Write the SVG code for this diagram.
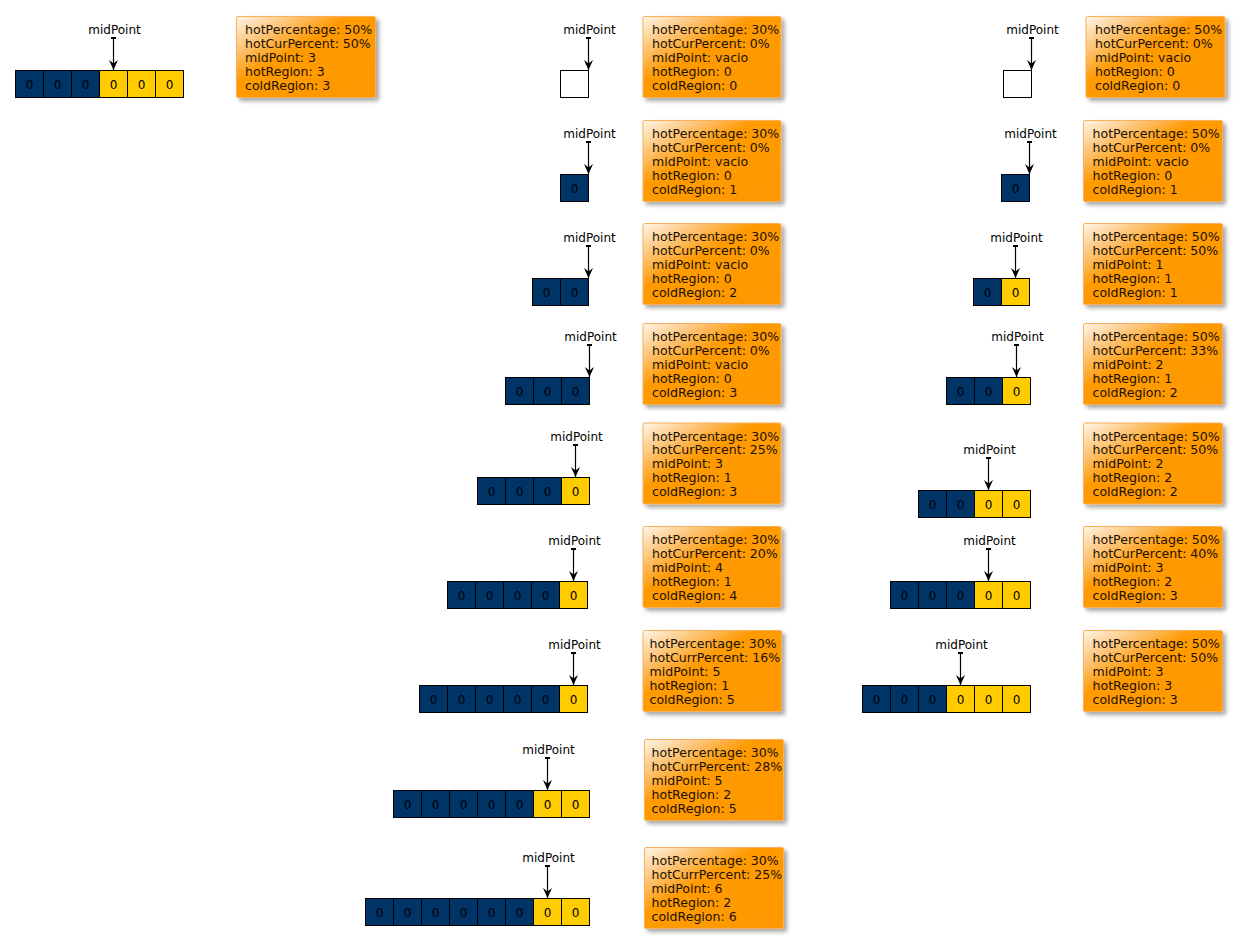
<svg xmlns="http://www.w3.org/2000/svg" width="1241" height="944" viewBox="0 0 1241 944">
<style>
.c{fill:#003366;stroke:#000;stroke-width:1}
.h{fill:#ffcc00;stroke:#000;stroke-width:1}
.e{fill:#fff;stroke:#000;stroke-width:1}
.z{font-family:"DejaVu Sans",sans-serif;font-size:12px;fill:#000;text-anchor:middle}
.lbl{font-family:"DejaVu Sans",sans-serif;font-size:12px;fill:#000;text-anchor:middle}
.note{fill:url(#ng);stroke:#f8b05a;stroke-width:1;filter:url(#sh)}
.nt{font-family:"DejaVu Sans",sans-serif;font-size:12.55px;fill:#1a1000}
.ar{stroke:#000;stroke-width:1.2;fill:none;marker-end:url(#head);marker-start:url(#tick)}
</style>
<defs>
<linearGradient id="ng" x1="0" y1="0" x2="1" y2="1">
<stop offset="0" stop-color="#fff6ea"/>
<stop offset="0.2" stop-color="#fdc77e"/>
<stop offset="0.4" stop-color="#ff9b06"/>
<stop offset="1" stop-color="#ff9700"/>
</linearGradient>
<filter id="sh" x="-10%" y="-10%" width="130%" height="140%">
<feDropShadow dx="3" dy="3" stdDeviation="2" flood-color="#000" flood-opacity="0.35"/>
</filter>
<marker id="head" viewBox="0 0 10 10" refX="10" refY="5" markerWidth="10" markerHeight="10" markerUnits="userSpaceOnUse" orient="auto">
<path d="M0,0.5 L10,5 L0,9.5 L3.5,5 z" fill="#000"/>
</marker>
<marker id="tick" viewBox="0 0 2 5" refX="1" refY="2.5" markerWidth="2" markerHeight="5" markerUnits="userSpaceOnUse" orient="auto">
<rect x="0" y="0" width="2" height="5" fill="#000"/>
</marker>
</defs>

<!-- left column -->
<g id="arr-L1">
<rect class="c" x="15.5" y="70.5" width="28" height="27"/><rect class="c" x="43.5" y="70.5" width="28" height="27"/><rect class="c" x="71.5" y="70.5" width="28" height="27"/>
<rect class="h" x="99.5" y="70.5" width="28" height="27"/><rect class="h" x="127.5" y="70.5" width="28" height="27"/><rect class="h" x="155.5" y="70.5" width="28" height="27"/>
<text class="z" x="29.5" y="88.5">0</text><text class="z" x="57.5" y="88.5">0</text><text class="z" x="85.5" y="88.5">0</text><text class="z" x="113.5" y="88.5">0</text><text class="z" x="141.5" y="88.5">0</text><text class="z" x="169.5" y="88.5">0</text>
<text class="lbl" x="114.5" y="34">midPoint</text>
</g>
<g id="note-L1"><rect class="note" x="236.5" y="16.5" width="139" height="81" rx="1.5"/>
<text class="nt" x="245" y="34"><tspan x="245">hotPercentage: 50%</tspan><tspan x="245" dy="13.95">hotCurPercent: 50%</tspan><tspan x="245" dy="13.95">midPoint: 3</tspan><tspan x="245" dy="13.95">hotRegion: 3</tspan><tspan x="245" dy="13.95">coldRegion: 3</tspan></text></g>

<!-- middle column -->
<g id="arr-M1">
<rect class="e" x="560.5" y="70.5" width="28" height="27"/>
<text class="lbl" x="589.5" y="34">midPoint</text>
</g>
<g id="note-M1"><rect class="note" x="643" y="16.5" width="138" height="81" rx="1.5"/>
<text class="nt" x="652" y="34"><tspan x="652">hotPercentage: 30%</tspan><tspan x="652" dy="13.95">hotCurPercent: 0%</tspan><tspan x="652" dy="13.95">midPoint: vacio</tspan><tspan x="652" dy="13.95">hotRegion: 0</tspan><tspan x="652" dy="13.95">coldRegion: 0</tspan></text></g>

<g id="arr-M2">
<rect class="c" x="560.5" y="174.5" width="28" height="27"/>
<text class="z" x="574.5" y="192.5">0</text>
<text class="lbl" x="589.5" y="138">midPoint</text>
</g>
<g id="note-M2"><rect class="note" x="643" y="120.5" width="138" height="81" rx="1.5"/>
<text class="nt" x="652" y="138"><tspan x="652">hotPercentage: 30%</tspan><tspan x="652" dy="13.95">hotCurPercent: 0%</tspan><tspan x="652" dy="13.95">midPoint: vacio</tspan><tspan x="652" dy="13.95">hotRegion: 0</tspan><tspan x="652" dy="13.95">coldRegion: 1</tspan></text></g>

<g id="arr-M3">
<rect class="c" x="532.5" y="278.5" width="28" height="27"/><rect class="c" x="560.5" y="278.5" width="28" height="27"/>
<text class="z" x="546.5" y="296.5">0</text><text class="z" x="574.5" y="296.5">0</text>
<text class="lbl" x="589.5" y="242">midPoint</text>
</g>
<g id="note-M3"><rect class="note" x="643" y="223.5" width="138" height="81" rx="1.5"/>
<text class="nt" x="652" y="241"><tspan x="652">hotPercentage: 30%</tspan><tspan x="652" dy="13.95">hotCurPercent: 0%</tspan><tspan x="652" dy="13.95">midPoint: vacio</tspan><tspan x="652" dy="13.95">hotRegion: 0</tspan><tspan x="652" dy="13.95">coldRegion: 2</tspan></text></g>

<g id="arr-M4">
<rect class="c" x="505.5" y="377.5" width="28" height="27"/><rect class="c" x="533.5" y="377.5" width="28" height="27"/><rect class="c" x="561.5" y="377.5" width="28" height="27"/>
<text class="z" x="519.5" y="395.5">0</text><text class="z" x="547.5" y="395.5">0</text><text class="z" x="575.5" y="395.5">0</text>
<text class="lbl" x="590.5" y="341">midPoint</text>
</g>
<g id="note-M4"><rect class="note" x="643" y="323.5" width="138" height="81" rx="1.5"/>
<text class="nt" x="652" y="341"><tspan x="652">hotPercentage: 30%</tspan><tspan x="652" dy="13.95">hotCurPercent: 0%</tspan><tspan x="652" dy="13.95">midPoint: vacio</tspan><tspan x="652" dy="13.95">hotRegion: 0</tspan><tspan x="652" dy="13.95">coldRegion: 3</tspan></text></g>

<g id="arr-M5">
<rect class="c" x="477.5" y="477.5" width="28" height="27"/><rect class="c" x="505.5" y="477.5" width="28" height="27"/><rect class="c" x="533.5" y="477.5" width="28" height="27"/><rect class="h" x="561.5" y="477.5" width="28" height="27"/>
<text class="z" x="491.5" y="495.5">0</text><text class="z" x="519.5" y="495.5">0</text><text class="z" x="547.5" y="495.5">0</text><text class="z" x="575.5" y="495.5">0</text>
<text class="lbl" x="576.5" y="441">midPoint</text>
</g>
<g id="note-M5"><rect class="note" x="643" y="423" width="138" height="81" rx="1.5"/>
<text class="nt" x="652" y="440.5"><tspan x="652">hotPercentage: 30%</tspan><tspan x="652" dy="13.95">hotCurPercent: 25%</tspan><tspan x="652" dy="13.95">midPoint: 3</tspan><tspan x="652" dy="13.95">hotRegion: 1</tspan><tspan x="652" dy="13.95">coldRegion: 3</tspan></text></g>

<g id="arr-M6">
<rect class="c" x="447.5" y="581.5" width="28" height="27"/><rect class="c" x="475.5" y="581.5" width="28" height="27"/><rect class="c" x="503.5" y="581.5" width="28" height="27"/><rect class="c" x="531.5" y="581.5" width="28" height="27"/><rect class="h" x="559.5" y="581.5" width="28" height="27"/>
<text class="z" x="461.5" y="599.5">0</text><text class="z" x="489.5" y="599.5">0</text><text class="z" x="517.5" y="599.5">0</text><text class="z" x="545.5" y="599.5">0</text><text class="z" x="573.5" y="599.5">0</text>
<text class="lbl" x="574.5" y="545">midPoint</text>
</g>
<g id="note-M6"><rect class="note" x="643" y="526.5" width="138" height="81" rx="1.5"/>
<text class="nt" x="652" y="544"><tspan x="652">hotPercentage: 30%</tspan><tspan x="652" dy="13.95">hotCurPercent: 20%</tspan><tspan x="652" dy="13.95">midPoint: 4</tspan><tspan x="652" dy="13.95">hotRegion: 1</tspan><tspan x="652" dy="13.95">coldRegion: 4</tspan></text></g>

<g id="arr-M7">
<rect class="c" x="419.5" y="685.5" width="28" height="27"/><rect class="c" x="447.5" y="685.5" width="28" height="27"/><rect class="c" x="475.5" y="685.5" width="28" height="27"/><rect class="c" x="503.5" y="685.5" width="28" height="27"/><rect class="c" x="531.5" y="685.5" width="28" height="27"/><rect class="h" x="559.5" y="685.5" width="28" height="27"/>
<text class="z" x="433.5" y="703.5">0</text><text class="z" x="461.5" y="703.5">0</text><text class="z" x="489.5" y="703.5">0</text><text class="z" x="517.5" y="703.5">0</text><text class="z" x="545.5" y="703.5">0</text><text class="z" x="573.5" y="703.5">0</text>
<text class="lbl" x="574.5" y="649">midPoint</text>
</g>
<g id="note-M7"><rect class="note" x="643" y="630.5" width="138.5" height="81" rx="1.5"/>
<text class="nt" x="649.5" y="648"><tspan x="649.5">hotPercentage: 30%</tspan><tspan x="649.5" dy="13.95">hotCurrPercent: 16%</tspan><tspan x="649.5" dy="13.95">midPoint: 5</tspan><tspan x="649.5" dy="13.95">hotRegion: 1</tspan><tspan x="649.5" dy="13.95">coldRegion: 5</tspan></text></g>

<g id="arr-M8">
<rect class="c" x="393.5" y="790.5" width="28" height="27"/><rect class="c" x="421.5" y="790.5" width="28" height="27"/><rect class="c" x="449.5" y="790.5" width="28" height="27"/><rect class="c" x="477.5" y="790.5" width="28" height="27"/><rect class="c" x="505.5" y="790.5" width="28" height="27"/><rect class="h" x="533.5" y="790.5" width="28" height="27"/><rect class="h" x="561.5" y="790.5" width="28" height="27"/>
<text class="z" x="407.5" y="808.5">0</text><text class="z" x="435.5" y="808.5">0</text><text class="z" x="463.5" y="808.5">0</text><text class="z" x="491.5" y="808.5">0</text><text class="z" x="519.5" y="808.5">0</text><text class="z" x="547.5" y="808.5">0</text><text class="z" x="575.5" y="808.5">0</text>
<text class="lbl" x="548.5" y="754">midPoint</text>
</g>
<g id="note-M8"><rect class="note" x="644.5" y="739.5" width="139" height="81" rx="1.5"/>
<text class="nt" x="651.5" y="757"><tspan x="651.5">hotPercentage: 30%</tspan><tspan x="651.5" dy="13.95">hotCurrPercent: 28%</tspan><tspan x="651.5" dy="13.95">midPoint: 5</tspan><tspan x="651.5" dy="13.95">hotRegion: 2</tspan><tspan x="651.5" dy="13.95">coldRegion: 5</tspan></text></g>

<g id="arr-M9">
<rect class="c" x="365.5" y="898.5" width="28" height="27"/><rect class="c" x="393.5" y="898.5" width="28" height="27"/><rect class="c" x="421.5" y="898.5" width="28" height="27"/><rect class="c" x="449.5" y="898.5" width="28" height="27"/><rect class="c" x="477.5" y="898.5" width="28" height="27"/><rect class="c" x="505.5" y="898.5" width="28" height="27"/><rect class="h" x="533.5" y="898.5" width="28" height="27"/><rect class="h" x="561.5" y="898.5" width="28" height="27"/>
<text class="z" x="379.5" y="916.5">0</text><text class="z" x="407.5" y="916.5">0</text><text class="z" x="435.5" y="916.5">0</text><text class="z" x="463.5" y="916.5">0</text><text class="z" x="491.5" y="916.5">0</text><text class="z" x="519.5" y="916.5">0</text><text class="z" x="547.5" y="916.5">0</text><text class="z" x="575.5" y="916.5">0</text>
<text class="lbl" x="548.5" y="862">midPoint</text>
</g>
<g id="note-M9"><rect class="note" x="644.5" y="847.5" width="139" height="81" rx="1.5"/>
<text class="nt" x="651.5" y="865"><tspan x="651.5">hotPercentage: 30%</tspan><tspan x="651.5" dy="13.95">hotCurrPercent: 25%</tspan><tspan x="651.5" dy="13.95">midPoint: 6</tspan><tspan x="651.5" dy="13.95">hotRegion: 2</tspan><tspan x="651.5" dy="13.95">coldRegion: 6</tspan></text></g>

<!-- right column -->
<g id="arr-R1">
<rect class="e" x="1003.5" y="70.5" width="28" height="27"/>
<text class="lbl" x="1032.5" y="34">midPoint</text>
</g>
<g id="note-R1"><rect class="note" x="1086" y="16.5" width="139" height="81" rx="1.5"/>
<text class="nt" x="1095" y="34"><tspan x="1095">hotPercentage: 50%</tspan><tspan x="1095" dy="13.95">hotCurPercent: 0%</tspan><tspan x="1095" dy="13.95">midPoint: vacio</tspan><tspan x="1095" dy="13.95">hotRegion: 0</tspan><tspan x="1095" dy="13.95">coldRegion: 0</tspan></text></g>

<g id="arr-R2">
<rect class="c" x="1001.5" y="174.5" width="28" height="27"/>
<text class="z" x="1015.5" y="192.5">0</text>
<text class="lbl" x="1030.5" y="138">midPoint</text>
</g>
<g id="note-R2"><rect class="note" x="1083.5" y="120.5" width="139" height="81" rx="1.5"/>
<text class="nt" x="1092.5" y="138"><tspan x="1092.5">hotPercentage: 50%</tspan><tspan x="1092.5" dy="13.95">hotCurPercent: 0%</tspan><tspan x="1092.5" dy="13.95">midPoint: vacio</tspan><tspan x="1092.5" dy="13.95">hotRegion: 0</tspan><tspan x="1092.5" dy="13.95">coldRegion: 1</tspan></text></g>

<g id="arr-R3">
<rect class="c" x="973.5" y="278.5" width="28" height="27"/><rect class="h" x="1001.5" y="278.5" width="28" height="27"/>
<text class="z" x="987.5" y="296.5">0</text><text class="z" x="1015.5" y="296.5">0</text>
<text class="lbl" x="1016.5" y="242">midPoint</text>
</g>
<g id="note-R3"><rect class="note" x="1083.5" y="223.5" width="139" height="81" rx="1.5"/>
<text class="nt" x="1092.5" y="241"><tspan x="1092.5">hotPercentage: 50%</tspan><tspan x="1092.5" dy="13.95">hotCurPercent: 50%</tspan><tspan x="1092.5" dy="13.95">midPoint: 1</tspan><tspan x="1092.5" dy="13.95">hotRegion: 1</tspan><tspan x="1092.5" dy="13.95">coldRegion: 1</tspan></text></g>

<g id="arr-R4">
<rect class="c" x="946.5" y="377.5" width="28" height="27"/><rect class="c" x="974.5" y="377.5" width="28" height="27"/><rect class="h" x="1002.5" y="377.5" width="28" height="27"/>
<text class="z" x="960.5" y="395.5">0</text><text class="z" x="988.5" y="395.5">0</text><text class="z" x="1016.5" y="395.5">0</text>
<text class="lbl" x="1017.5" y="341">midPoint</text>
</g>
<g id="note-R4"><rect class="note" x="1083.5" y="323.5" width="139" height="81" rx="1.5"/>
<text class="nt" x="1092.5" y="341"><tspan x="1092.5">hotPercentage: 50%</tspan><tspan x="1092.5" dy="13.95">hotCurPercent: 33%</tspan><tspan x="1092.5" dy="13.95">midPoint: 2</tspan><tspan x="1092.5" dy="13.95">hotRegion: 1</tspan><tspan x="1092.5" dy="13.95">coldRegion: 2</tspan></text></g>

<g id="arr-R5">
<rect class="c" x="918.5" y="490.5" width="28" height="27"/><rect class="c" x="946.5" y="490.5" width="28" height="27"/><rect class="h" x="974.5" y="490.5" width="28" height="27"/><rect class="h" x="1002.5" y="490.5" width="28" height="27"/>
<text class="z" x="932.5" y="508.5">0</text><text class="z" x="960.5" y="508.5">0</text><text class="z" x="988.5" y="508.5">0</text><text class="z" x="1016.5" y="508.5">0</text>
<text class="lbl" x="989.5" y="454">midPoint</text>
</g>
<g id="note-R5"><rect class="note" x="1083.5" y="423" width="139" height="81" rx="1.5"/>
<text class="nt" x="1092.5" y="440.5"><tspan x="1092.5">hotPercentage: 50%</tspan><tspan x="1092.5" dy="13.95">hotCurPercent: 50%</tspan><tspan x="1092.5" dy="13.95">midPoint: 2</tspan><tspan x="1092.5" dy="13.95">hotRegion: 2</tspan><tspan x="1092.5" dy="13.95">coldRegion: 2</tspan></text></g>

<g id="arr-R6">
<rect class="c" x="890.5" y="581.5" width="28" height="27"/><rect class="c" x="918.5" y="581.5" width="28" height="27"/><rect class="c" x="946.5" y="581.5" width="28" height="27"/><rect class="h" x="974.5" y="581.5" width="28" height="27"/><rect class="h" x="1002.5" y="581.5" width="28" height="27"/>
<text class="z" x="904.5" y="599.5">0</text><text class="z" x="932.5" y="599.5">0</text><text class="z" x="960.5" y="599.5">0</text><text class="z" x="988.5" y="599.5">0</text><text class="z" x="1016.5" y="599.5">0</text>
<text class="lbl" x="989.5" y="545">midPoint</text>
</g>
<g id="note-R6"><rect class="note" x="1083.5" y="526.5" width="139" height="81" rx="1.5"/>
<text class="nt" x="1092.5" y="544"><tspan x="1092.5">hotPercentage: 50%</tspan><tspan x="1092.5" dy="13.95">hotCurPercent: 40%</tspan><tspan x="1092.5" dy="13.95">midPoint: 3</tspan><tspan x="1092.5" dy="13.95">hotRegion: 2</tspan><tspan x="1092.5" dy="13.95">coldRegion: 3</tspan></text></g>

<g id="arr-R7">
<rect class="c" x="862.5" y="685.5" width="28" height="27"/><rect class="c" x="890.5" y="685.5" width="28" height="27"/><rect class="c" x="918.5" y="685.5" width="28" height="27"/><rect class="h" x="946.5" y="685.5" width="28" height="27"/><rect class="h" x="974.5" y="685.5" width="28" height="27"/><rect class="h" x="1002.5" y="685.5" width="28" height="27"/>
<text class="z" x="876.5" y="703.5">0</text><text class="z" x="904.5" y="703.5">0</text><text class="z" x="932.5" y="703.5">0</text><text class="z" x="960.5" y="703.5">0</text><text class="z" x="988.5" y="703.5">0</text><text class="z" x="1016.5" y="703.5">0</text>
<text class="lbl" x="961.5" y="649">midPoint</text>
</g>
<g id="note-R7"><rect class="note" x="1083.5" y="630.5" width="139" height="81" rx="1.5"/>
<text class="nt" x="1092.5" y="648"><tspan x="1092.5">hotPercentage: 50%</tspan><tspan x="1092.5" dy="13.95">hotCurPercent: 50%</tspan><tspan x="1092.5" dy="13.95">midPoint: 3</tspan><tspan x="1092.5" dy="13.95">hotRegion: 3</tspan><tspan x="1092.5" dy="13.95">coldRegion: 3</tspan></text></g>

<g id="connectors">
<line class="ar" x1="113.5" y1="38" x2="113.5" y2="70"/>
<line class="ar" x1="588.5" y1="38" x2="588.5" y2="70"/>
<line class="ar" x1="588.5" y1="142" x2="588.5" y2="174"/>
<line class="ar" x1="588.5" y1="246" x2="588.5" y2="278"/>
<line class="ar" x1="589.5" y1="345" x2="589.5" y2="377"/>
<line class="ar" x1="575.5" y1="445" x2="575.5" y2="477"/>
<line class="ar" x1="573.5" y1="549" x2="573.5" y2="581"/>
<line class="ar" x1="573.5" y1="653" x2="573.5" y2="685"/>
<line class="ar" x1="547.5" y1="758" x2="547.5" y2="790"/>
<line class="ar" x1="547.5" y1="866" x2="547.5" y2="898"/>
<line class="ar" x1="1031.5" y1="38" x2="1031.5" y2="70"/>
<line class="ar" x1="1029.5" y1="142" x2="1029.5" y2="174"/>
<line class="ar" x1="1015.5" y1="246" x2="1015.5" y2="278"/>
<line class="ar" x1="1016.5" y1="345" x2="1016.5" y2="377"/>
<line class="ar" x1="988.5" y1="458" x2="988.5" y2="490"/>
<line class="ar" x1="988.5" y1="549" x2="988.5" y2="581"/>
<line class="ar" x1="960.5" y1="653" x2="960.5" y2="685"/>
</g>
</svg>
